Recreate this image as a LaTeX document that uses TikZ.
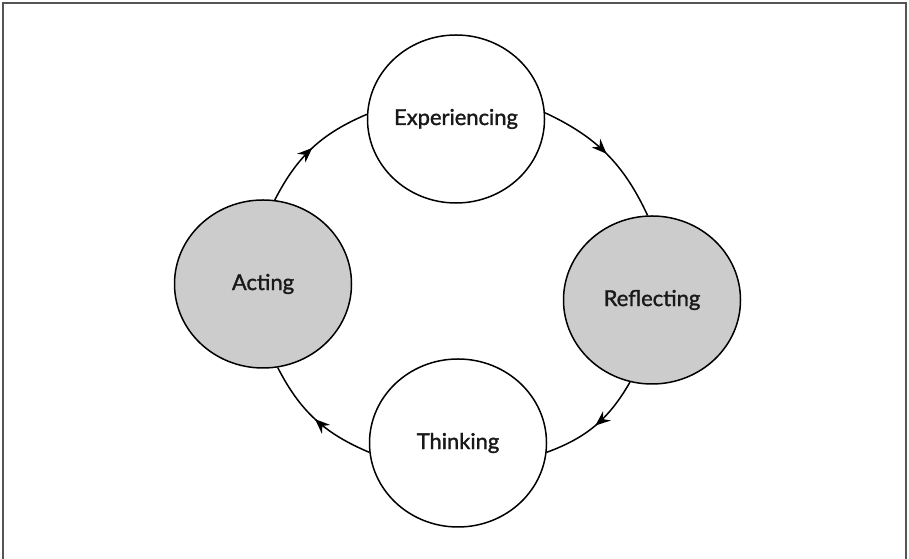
\documentclass[tikz,border=0pt]{standalone}
\usepackage{fontspec}
\setmainfont{Lato}[BoldFont=Lato,BoldFeatures={FakeBold=1.5}]
\usetikzlibrary{shapes.geometric,arrows.meta,decorations.markings}
\definecolor{stagegray}{RGB}{204,204,204}
\definecolor{framegray}{RGB}{85,85,85}
\begin{document}
\begin{tikzpicture}[x=1bp,y=1bp,
  stage/.style={ellipse,draw=black,line width=1.5bp,minimum width=177bp,minimum height=168bp,inner sep=0pt,font=\fontsize{22}{26}\selectfont\bfseries,text=black!90},
  shadedstage/.style={stage,fill=stagegray},
  plainstage/.style={stage,fill=white},
  loopline/.style={line width=1.5bp,postaction={decorate},
    decoration={markings,mark=at position 0.5 with {\arrow{Stealth[length=15bp,width=12bp,inset=5bp]}}}},
]
\useasboundingbox (0,0) rectangle (909,559);
\fill[white] (0,0) rectangle (909,559);
\draw[framegray,line width=1.5bp] (3,0) -- (3,556) -- (906,556) -- (906,0);

\node[plainstage]  (exp) at (456,440) {Experiencing};
\node[shadedstage] (ref) at (652,259) {Reflecting};
\node[plainstage]  (thi) at (458,116) {Thinking};
\node[shadedstage] (act) at (263,275) {Acting};

\draw[loopline] (act.82) to[bend left=20] (exp.177);
\draw[loopline] (exp.4) to[bend left=20] (ref.93);
\draw[loopline] (ref.-105) to[bend left=20] (thi.-6);
\draw[loopline] (thi.-174) to[bend left=20] (act.-80);
\end{tikzpicture}
\end{document}
